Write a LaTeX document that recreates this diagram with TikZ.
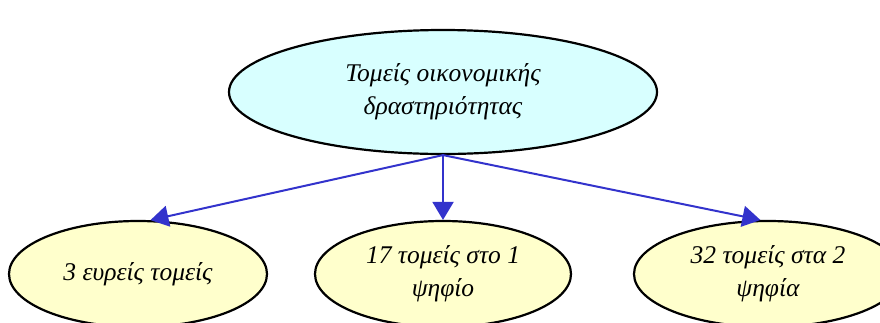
\documentclass[tikz,border=0pt]{standalone}
\usepackage{fontspec}
\setmainfont{Liberation Serif}
\usetikzlibrary{shapes.geometric,arrows.meta}
\definecolor{topfill}{RGB}{216,255,255}
\definecolor{leaffill}{RGB}{255,255,204}
\definecolor{edgeblue}{RGB}{51,51,204}
\tikzset{
  topnode/.style={ellipse, draw=black, line width=2.2pt, fill=topfill, inner sep=0pt,
    minimum width=428pt, minimum height=124pt, align=center,
    font=\fontsize{25.5}{33}\selectfont\itshape},
  leafnode/.style={ellipse, draw=black, line width=2.2pt, fill=leaffill, inner sep=0pt,
    minimum height=106pt, align=center,
    font=\fontsize{25.5}{33}\selectfont\itshape},
  edge/.style={draw=edgeblue, line width=2pt, -{Triangle[length=18pt,width=21pt]}}
}
\begin{document}
\begin{tikzpicture}[x=1pt,y=-1pt]
\useasboundingbox (0,0) rectangle (880,322);
\clip (0,0) rectangle (880,322);
\node[topnode] (top) at (443,92) {Τομείς οικονομικής\\δραστηριότητας};
\node[leafnode, minimum width=258pt] (left) at (138,274) {3 ευρείς τομείς};
\node[leafnode, minimum width=256pt] (mid) at (443,274) {17 τομείς στο 1\\ψηφίο};
\node[leafnode, minimum width=268pt] (right) at (768,274) {32 τομείς στα 2\\ψηφία};
\draw[edge] (top.south) -- (left.77);
\draw[edge] (top.south) -- (mid.north);
\draw[edge] (top.south) -- (right.98);
\end{tikzpicture}
\end{document}
